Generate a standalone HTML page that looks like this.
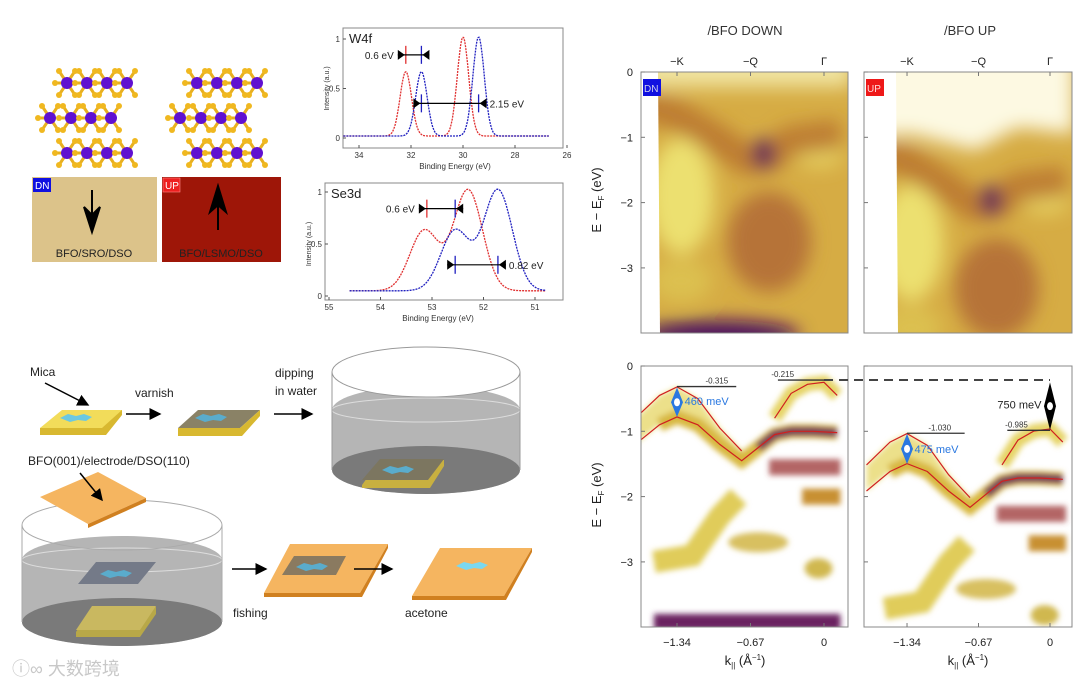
<!DOCTYPE html>
<html><head><meta charset="utf-8"><style>
html,body{margin:0;padding:0;background:#fff;}
svg{display:block;font-family:"Liberation Sans","Noto Sans CJK SC",sans-serif;}
</style></head><body>
<svg id="fig" width="1080" height="685" viewBox="0 0 1080 685" xmlns="http://www.w3.org/2000/svg">
<defs>
<filter id="b3" x="-50%" y="-50%" width="200%" height="200%"><feGaussianBlur stdDeviation="3"/></filter>
<filter id="b8" x="-50%" y="-50%" width="200%" height="200%"><feGaussianBlur stdDeviation="9"/></filter>
<clipPath id="cTL"><rect x="641" y="72" width="207" height="261"/></clipPath>
<clipPath id="cTR"><rect x="864" y="72" width="208" height="261"/></clipPath>
<clipPath id="cBL"><rect x="641" y="366" width="207" height="261"/></clipPath>
<clipPath id="cBR"><rect x="864" y="366" width="208" height="261"/></clipPath>
<marker id="ah" markerWidth="8" markerHeight="8" refX="7" refY="4" orient="auto"><path d="M0,0 L8,4 L0,8 z" fill="#000"/></marker>
</defs>

<g id="crystals"></g>
<rect x="32" y="177" width="125" height="85" fill="#dcc38a"/>
<rect x="33" y="178" width="18" height="14" fill="#1010e0"/>
<text x="35" y="189" font-size="10" fill="#fff">DN</text>
<path d="M92,190 L92,214 M84,207 L92,232 L100,207 L92,215 z" stroke="#000" stroke-width="2" fill="#000"/>
<text x="94" y="257" font-size="11" text-anchor="middle" fill="#222">BFO/SRO/DSO</text>
<rect x="162" y="177" width="119" height="85" fill="#9e1608"/>
<rect x="163" y="178" width="17" height="14" fill="#ee2020" stroke="#f88" stroke-width="0.6"/>
<text x="165" y="189" font-size="10" fill="#fff">UP</text>
<path d="M218,230 L218,206 M210,212 L218,186 L226,212 L218,205 z" stroke="#000" stroke-width="2" fill="#000"/>
<text x="221" y="257" font-size="11" text-anchor="middle" fill="#222">BFO/LSMO/DSO</text>

<g id="xps1">
<rect x="343" y="28" width="220" height="120" fill="#fff" stroke="#888"/>
</g>
<g id="xps2">
<rect x="325" y="183" width="238" height="117" fill="#fff" stroke="#888"/>
</g>

<g>
<text x="30" y="376" font-size="12" fill="#222">Mica</text>
<line x1="45" y1="383" x2="88" y2="405" stroke="#000" stroke-width="1.5" marker-end="url(#ah)"/>
<path d="M40,428 L100,410 L122,410 L122,415 L106,435 L40,435 z" fill="#d8b830"/>
<path d="M40,428 L62,410 L122,410 L102,428 z" fill="#f2dc5a"/>
<path d="M60,418 l8,-4 l8,2 l8,-2 l8,3 l-6,4 l-8,-1 l-8,2 z" fill="#6cc8e0"/>
<text x="135" y="397" font-size="12" fill="#222">varnish</text>
<line x1="126" y1="414" x2="160" y2="414" stroke="#000" stroke-width="1.5" marker-end="url(#ah)"/>
<path d="M178,428 L198,410 L260,410 L240,428 z" fill="#8a8266"/>
<path d="M178,428 L240,428 L260,410 L260,416 L242,436 L178,436 z" fill="#d8b830"/>
<path d="M195,418 l8,-4 l8,2 l8,-2 l8,3 l-6,4 l-8,-1 l-8,2 z" fill="#5aaccc"/>
<text x="275" y="377" font-size="12" fill="#222">dipping</text>
<text x="275" y="395" font-size="12" fill="#222">in water</text>
<line x1="274" y1="414" x2="312" y2="414" stroke="#000" stroke-width="1.5" marker-end="url(#ah)"/>
<path d="M332,410 L332,470 A94,24 0 0 0 520,470 L520,410 A94,24 0 0 0 332,410 z" fill="#b5b5b5"/>
<ellipse cx="426" cy="470" rx="94" ry="24" fill="#7a7a7a"/>
<ellipse cx="426" cy="410" rx="94" ry="12" fill="none" stroke="#ddd"/>
<ellipse cx="426" cy="372" rx="94" ry="25" fill="#fff" stroke="#999"/>
<line x1="332" y1="372" x2="332" y2="470" stroke="#999"/>
<line x1="520" y1="372" x2="520" y2="470" stroke="#999"/>
<path d="M362,485 L380,460 L444,460 L444,466 L430,488 L362,488 z" fill="#c8b040"/>
<path d="M362,480 L380,459 L444,459 L428,480 z" fill="#7c7660"/>
<path d="M382,470 l8,-4 l8,2 l8,-2 l8,3 l-6,4 l-8,-1 l-8,2 z" fill="#5aaccc"/>
<text x="28" y="465" font-size="12" fill="#222">BFO(001)/electrode/DSO(110)</text>
<path d="M22,560 L22,622 A100,24 0 0 0 222,622 L222,560 A100,24 0 0 0 22,560 z" fill="#b5b5b5"/>
<ellipse cx="122" cy="622" rx="100" ry="24" fill="#7a7a7a"/>
<ellipse cx="122" cy="560" rx="100" ry="12" fill="none" stroke="#ddd"/>
<ellipse cx="122" cy="525" rx="100" ry="25" fill="none" stroke="#aaa"/>
<line x1="22" y1="525" x2="22" y2="622" stroke="#aaa"/>
<line x1="222" y1="525" x2="222" y2="622" stroke="#aaa"/>
<path d="M40,497 L98,472 L146,498 L88,524 z" fill="#f5b560"/>
<path d="M88,524 L146,498 L146,502 L88,528 z" fill="#d08020"/>
<line x1="80" y1="473" x2="102" y2="500" stroke="#000" stroke-width="1.5" marker-end="url(#ah)"/>
<path d="M78,584 L96,562 L156,562 L138,584 z" fill="#747a88"/>
<path d="M100,574 l8,-4 l8,2 l8,-2 l8,3 l-6,4 l-8,-1 l-8,2 z" fill="#5aaccc"/>
<path d="M76,632 L92,607 L156,607 L156,614 L140,637 L76,637 z" fill="#b8a848"/>
<path d="M76,630 L92,606 L156,606 L140,630 z" fill="#c9b860"/>
<line x1="232" y1="569" x2="266" y2="569" stroke="#000" stroke-width="1.5" marker-end="url(#ah)"/>
<text x="233" y="617" font-size="12" fill="#222">fishing</text>
<path d="M264,593 L290,544 L388,544 L360,593 z" fill="#f5b560"/>
<path d="M360,593 L388,544 L388,548 L362,597 L264,597 L264,593 z" fill="#d08020"/>
<path d="M282,575 L294,556 L346,556 L336,575 z" fill="#8a7a60"/>
<path d="M296,567 l8,-4 l8,2 l8,-2 l8,3 l-6,4 l-8,-1 l-8,2 z" fill="#5aaccc"/>
<line x1="354" y1="569" x2="392" y2="569" stroke="#000" stroke-width="1.5" marker-end="url(#ah)"/>
<text x="405" y="617" font-size="12" fill="#222">acetone</text>
<path d="M412,596 L440,548 L532,548 L504,596 z" fill="#f5b560"/>
<path d="M504,596 L532,548 L532,552 L506,600 L412,600 L412,596 z" fill="#d08020"/>
<path d="M456,566 l8,-4 l8,2 l8,-2 l8,3 l-6,4 l-8,-1 l-8,2 z" fill="#7ad8f0"/>
<text x="12" y="675" font-size="18" fill="#c8c8c8">ⓘ∞ 大数跨境</text>
</g>

<text x="745" y="35" font-size="13" text-anchor="middle" fill="#333">/BFO DOWN</text>
<text x="970" y="35" font-size="13" text-anchor="middle" fill="#333">/BFO UP</text>
<g id="arpes"></g>
<text transform="translate(601,200) rotate(-90)" font-size="13" text-anchor="middle" fill="#222">E − E<tspan font-size="8" dy="3">F</tspan><tspan dy="-3"> (eV)</tspan></text>
<text transform="translate(601,495) rotate(-90)" font-size="13" text-anchor="middle" fill="#222">E − E<tspan font-size="8" dy="3">F</tspan><tspan dy="-3"> (eV)</tspan></text>
<text x="745" y="665" font-size="13" text-anchor="middle" fill="#222">k<tspan font-size="8" dy="3">||</tspan><tspan dy="-3"> (Å</tspan><tspan font-size="8" dy="-5">−1</tspan><tspan dy="5">)</tspan></text>
<text x="968" y="665" font-size="13" text-anchor="middle" fill="#222">k<tspan font-size="8" dy="3">||</tspan><tspan dy="-3"> (Å</tspan><tspan font-size="8" dy="-5">−1</tspan><tspan dy="5">)</tspan></text>
</svg>
<script>
const NS="http://www.w3.org/2000/svg";
const w4fRedCenters=[32.2,30.0], w4fRedHeights=[0.65,1.0];
const w4fBlueCenters=[31.6,29.4], w4fBlueHeights=[0.65,1.0];
const se3dRedCenters=[53.15,52.3], se3dRedHeights=[0.58,0.97];
const se3dBlueCenters=[52.55,51.72], se3dBlueHeights=[0.58,0.97];
const w4fXTicks=[34,32,30,28,26], se3dXTicks=[55,54,53,52,51], yTicks=[0,0.5,1];
const kTicks=[-1.34,-0.67,0], kTickLabels=["−1.34","−0.67","0"];
const eTicks=[0,-1,-2,-3], eTickLabels=["0","−1","−2","−3"];
const symTicks=[-1.34,-0.67,0.0], symLabels=["−K","−Q","Γ"];
const upperK=[-1.72,-1.5,-1.34,-1.15,-0.95,-0.75];
const upperE=[-0.8,-0.45,-0.32,-0.5,-0.95,-1.3];
const lowerK=[-1.72,-1.5,-1.34,-1.15,-0.95,-0.75,-0.6,-0.45,-0.3,-0.1,0.12];
const lowerE=[-1.2,-0.9,-0.78,-0.9,-1.2,-1.45,-1.25,-1.05,-1.0,-1.0,-1.02];
const humpK=[-0.45,-0.3,-0.15,0,0.12], humpE=[-0.8,-0.42,-0.28,-0.25,-0.45];
const diagK=[-1.55,-1.2,-0.95,-0.78], diagE=[-3.0,-2.9,-2.3,-2.0];
const vK=[-1.7,-1.35,-1.0,-0.7,-0.5,-0.3,0.15], vE=[-0.5,-0.65,-1.0,-1.35,-1.3,-1.05,-0.95];
const upShift=0.715;

function el(tag,attrs,parent){const e=document.createElementNS(NS,tag);for(const k in attrs)e.setAttribute(k,attrs[k]);parent.appendChild(e);return e;}
function txt(s,attrs,parent){const t=el('text',attrs,parent);t.textContent=s;return t;}

(function(){
 const g=document.getElementById('crystals');
 const rows=[[83,[67,87,107,127]],[118,[50,71,91,111]],[153,[67,87,107,127]]];
 [0,130].forEach(off=>rows.forEach(r=>r[1].forEach(x=>{
  const cx=x+off,cy=r[0];
  [[-8,-12],[8,-12],[-8,12],[8,12],[-12,0]].forEach(d=>{el('line',{x1:cx,y1:cy,x2:cx+d[0],y2:cy+d[1],stroke:'#e8b020','stroke-width':3},g);el('circle',{cx:cx+d[0],cy:cy+d[1],r:3,fill:'#f0b820'},g);});
  el('circle',{cx:cx,cy:cy,r:6,fill:'#6010d0'},g);
 })));
})();

function gauss(x,c,s){return Math.exp(-((x-c)*(x-c))/(2*s*s));}
function xpsPlot(gid,x0,x1,e0,e1,yb,yt,xTicks,from,to,sig,base,rc,rh,bc,bh,title){
 const g=document.getElementById(gid);
 const X=v=>x0+(e0-v)/(e0-e1)*(x1-x0), Y=v=>yb-(v)*(yb-yt);
 const frame=g.querySelector('rect');const fb=+frame.getAttribute('y')+ +frame.getAttribute('height');
 xTicks.forEach(t=>{const x=X(t);el('line',{x1:x,y1:fb,x2:x,y2:fb-3,stroke:'#555'},g);txt(String(t),{x:x,y:fb+10,'font-size':8,'text-anchor':'middle',fill:'#333'},g);});
 const fx=+frame.getAttribute('x');
 yTicks.forEach(t=>{const y=Y(t);el('line',{x1:fx,y1:y,x2:fx+3,y2:y,stroke:'#555'},g);txt(String(t),{x:fx-3,y:y+3,'font-size':8,'text-anchor':'end',fill:'#333'},g);});
 txt('Binding Energy (eV)',{x:(fx+x1)/2+(fx===343?0:8),y:fb+21,'font-size':8,'text-anchor':'middle',fill:'#333'},g);
 txt('Intensity (a.u.)',{transform:`translate(${fx-14},${(yt+yb)/2}) rotate(-90)`,'font-size':7,'text-anchor':'middle',fill:'#333'},g);
 txt(title,{x:fx+6,y:+frame.getAttribute('y')+15,'font-size':13,fill:'#222'},g);
 [[rc,rh,'#e03030'],[bc,bh,'#2020c0']].forEach(([cs,hs,col],si)=>{
  let d='';for(let i=0;i<=200;i++){const e=from+(to-from)*i/200;let v=base;cs.forEach((c,j)=>v+=hs[j]*gauss(e,c,sig));d+=(i?'L':'M')+X(e).toFixed(1)+','+Y(v).toFixed(1);}
  const p=el('path',{d:d,fill:'none',stroke:col,'stroke-width':1.3,'stroke-dasharray':'2,1'},g);
  
  
 });
 return {X,Y,g};
}
function meas(o,e1,e2,yv,lbl,lblRight,colA,colB){
 const {X,Y,g}=o;const y=Y(yv);const a=X(e1),b=X(e2);
 el('line',{x1:a,y1:y-9,x2:a,y2:y+9,stroke:colA,'stroke-width':1.3},g);
 el('line',{x1:b,y1:y-9,x2:b,y2:y+9,stroke:colB,'stroke-width':1.3},g);
 el('line',{x1:Math.min(a,b)-8,y1:y,x2:Math.max(a,b)+8,y2:y,stroke:'#000','stroke-width':1.2},g);
 const L=Math.min(a,b)-8,R=Math.max(a,b)+8;
 el('path',{d:`M${L},${y-5} L${L+7},${y} L${L},${y+5} z`,fill:'#000'},g);
 el('path',{d:`M${R},${y-5} L${R-7},${y} L${R},${y+5} z`,fill:'#000'},g);
 if(lblRight) txt(lbl,{x:R+3,y:y+4,'font-size':10,fill:'#222'},g); else txt(lbl,{x:L-4,y:y+4,'font-size':10,'text-anchor':'end',fill:'#222'},g);
}
const o1=xpsPlot('xps1',359,567,34,26,138,39,w4fXTicks,34.6,26.7,0.22,0.02,w4fRedCenters,w4fRedHeights,w4fBlueCenters,w4fBlueHeights,'W4f');
meas(o1,32.2,31.6,0.84,'0.6 eV',false,'#e03030','#2020c0');
meas(o1,31.6,29.4,0.35,'2.15 eV',true,'#2020c0','#2020c0');
const o2=xpsPlot('xps2',329,535,55,51,296,192,se3dXTicks,54.6,50.8,0.28,0.05,se3dRedCenters,se3dRedHeights,se3dBlueCenters,se3dBlueHeights,'Se3d');
meas(o2,53.1,52.55,0.84,'0.6 eV',false,'#e03030','#2020c0');
meas(o2,52.55,51.72,0.3,'0.82 eV',true,'#2020c0','#2020c0');

const A=document.getElementById('arpes');
const panels=[{x0:641,x1:848,z:824,s:109.7,y0:72,clip:'cTL',top:true,up:false},
 {x0:864,x1:1072,z:1050,s:106.7,y0:72,clip:'cTR',top:true,up:true},
 {x0:641,x1:848,z:824,s:109.7,y0:366,clip:'cBL',top:false,up:false},
 {x0:864,x1:1072,z:1050,s:106.7,y0:366,clip:'cBR',top:false,up:true}];
const ES=65.3;
function pts(ks,es,P,d){return ks.map((k,i)=>[P.z+k*P.s,P.y0-(es[i]-d)*ES]);}
function pd(p){return p.map((q,i)=>(i?'L':'M')+q[0].toFixed(1)+','+q[1].toFixed(1)).join('');}
panels.forEach((P)=>{
 const g=el('g',{'clip-path':`url(#${P.clip})`},A);
 const d=P.up?upShift:0;
 const X=k=>P.z+k*P.s, Y=e=>P.y0-e*ES;
 if(P.top){
  el('rect',{x:P.x0,y:P.y0,width:210,height:262,fill:'#d6ac44'},g);
  const b=el('g',{filter:'url(#b8)'},g);
  el('ellipse',{cx:X(-1.3),cy:Y(-1.9-d),rx:32,ry:58,fill:'#ece070'},b);
  el('ellipse',{cx:X(-0.05),cy:Y(-1.25-d),rx:25,ry:14,fill:'#e6d060'},b);
  el('path',{d:pd(pts(vK,vE,P,d)),stroke:'#b87430','stroke-width':30,fill:'none',opacity:0.85},b);
  el('ellipse',{cx:X(-0.5),cy:Y(-2.6-d),rx:42,ry:50,fill:'#b06a35',opacity:0.85},b);
  el('ellipse',{cx:X(-1.3),cy:Y(-3.2-d),rx:30,ry:22,fill:'#dcc050'},b);
  el('ellipse',{cx:X(-0.55),cy:Y(-1.25-d),rx:11,ry:15,fill:'#5a1a5a'},b);
  if(!P.up){
   el('rect',{x:P.x0,y:P.y0-20,width:210,height:35,fill:'#f0e4a0'},b);
   el('ellipse',{cx:X(-0.95),cy:Y(-4.02),rx:80,ry:14,fill:'#4a1060'},b);
  } else {
   el('path',{d:`M${P.x0},${P.y0-20} L${P.x0+210},${P.y0-20} L${P.x0+210},${Y(-0.95)} L${X(-0.3)},${Y(-0.85)} L${X(-0.7)},${Y(-1.2)} L${X(-1.3)},${Y(-0.95)} L${P.x0},${Y(-1.0)} z`,fill:'#fdf9e2'},b);
  }
  const ws=P.up?32:17;
  el('path',{d:`M${P.x0-2},${P.y0} L${P.x0+ws},${P.y0} L${P.x0+ws+2},${P.y0+262} L${P.x0-2},${P.y0+262} z`,fill:'#fff'},g);
 } else {
  el('rect',{x:P.x0,y:P.y0,width:210,height:262,fill:'#fff'},g);
  const b=el('g',{filter:'url(#b3)'},g);
  const up=pts(upperK,upperE,P,d), lo=pts(lowerK,lowerE,P,d);
  el('path',{d:pd(up)+'L'+lo.slice(0,6).reverse().map(q=>q.join(',')).join('L')+'z',fill:'#ece08a'},b);
  el('path',{d:pd(lo.slice(1)),stroke:'#d8b840','stroke-width':14,fill:'none'},b);
  el('path',{d:pd(pts(lowerK.slice(6),lowerE.slice(6),P,d)),stroke:'#5a1860','stroke-width':9,fill:'none',opacity:0.8},b);
  el('path',{d:pd(pts(humpK,humpE,P,d)),stroke:'#e6d468','stroke-width':14,fill:'none'},b);
  el('path',{d:pd(pts(diagK,diagE,P,d)),stroke:'#e0cc5a','stroke-width':22,fill:'none'},b);
  el('rect',{x:X(-0.5),y:Y(-1.55-d)-8,width:X(0.15)-X(-0.5),height:16,fill:'#a04040',opacity:0.8},b);
  el('rect',{x:X(-0.2),y:Y(-2.0-d)-8,width:X(0.15)-X(-0.2),height:16,fill:'#c89030'},b);
  el('ellipse',{cx:X(-0.6),cy:Y(-2.7-d),rx:30,ry:10,fill:'#d8c060'},b);
  el('ellipse',{cx:X(-0.05),cy:Y(-3.1-d),rx:14,ry:10,fill:'#d0b850'},b);
  if(!P.up) el('rect',{x:X(-1.55),y:Y(-3.92)-8,width:X(0.15)-X(-1.55),height:16,fill:'#6a2060'},b);
  [[upperK,upperE],[lowerK,lowerE],[humpK,humpE]].forEach(([ks,es])=>{
   const l=el('path',{d:pd(pts(ks,es,P,d)),stroke:'#d02020','stroke-width':1.2,fill:'none'},g);
   
   
  });
 }
 el('rect',{x:P.x0,y:P.y0,width:P.x1-P.x0,height:261,fill:'none',stroke:'#888'},A);
 const yb=P.y0+261;
 if(P.top){symTicks.forEach((k,i)=>{el('line',{x1:X(k),y1:P.y0,x2:X(k),y2:P.y0+4,stroke:'#777'},A);txt(symLabels[i],{x:X(k),y:P.y0-7,'font-size':11,'text-anchor':'middle',fill:'#222'},A);});}
 else{kTicks.forEach((k,i)=>{el('line',{x1:X(k),y1:yb,x2:X(k),y2:yb-4,stroke:'#777'},A);txt(kTickLabels[i],{x:X(k),y:yb+19,'font-size':11,'text-anchor':'middle',fill:'#222'},A);});}
 eTicks.forEach((e,i)=>{el('line',{x1:P.x0,y1:Y(e),x2:P.x0+4,y2:Y(e),stroke:'#777'},A);if(!P.up)txt(eTickLabels[i],{x:P.x0-8,y:Y(e)+4,'font-size':11,'text-anchor':'end',fill:'#222'},A);});
});
el('rect',{x:643,y:79,width:18,height:17,fill:'#1010e0'},A);txt('DN',{x:644,y:92,'font-size':10,fill:'#cce'},A);
el('rect',{x:866,y:79,width:18,height:17,fill:'#ee1818'},A);txt('UP',{x:867,y:92,'font-size':10,fill:'#fdd'},A);
const PL=panels[2],PR=panels[3];
function xk(P,k){return P.z+k*P.s;} function yE(P,e){return P.y0-e*ES;}
const peakE=[-0.315,-0.215,-1.030,-0.985];
el('line',{x1:xk(PL,-1.34),y1:yE(PL,peakE[0]),x2:xk(PL,-0.8),y2:yE(PL,peakE[0]),stroke:'#333','stroke-width':1.3},A);
txt('-0.315',{x:xk(PL,-1.08),y:yE(PL,peakE[0])-3,'font-size':8,fill:'#333'},A);
el('line',{x1:xk(PL,-0.42),y1:yE(PL,peakE[1]),x2:xk(PL,0),y2:yE(PL,peakE[1]),stroke:'#333','stroke-width':1.3},A);
txt('-0.215',{x:xk(PL,-0.48),y:yE(PL,peakE[1])-3,'font-size':8,fill:'#333'},A);
el('line',{x1:xk(PL,0),y1:yE(PL,peakE[1]),x2:xk(PR,0),y2:yE(PL,peakE[1]),stroke:'#444','stroke-width':2,'stroke-dasharray':'9,6'},A);
el('line',{x1:xk(PR,-1.34),y1:yE(PR,peakE[2]),x2:xk(PR,-0.8),y2:yE(PR,peakE[2]),stroke:'#333','stroke-width':1.3},A);
txt('-1.030',{x:xk(PR,-1.14),y:yE(PR,peakE[2])-3,'font-size':8,fill:'#333'},A);
el('line',{x1:xk(PR,-0.4),y1:yE(PR,peakE[3]),x2:xk(PR,0),y2:yE(PR,peakE[3]),stroke:'#333','stroke-width':1.3},A);
txt('-0.985',{x:xk(PR,-0.42),y:yE(PR,peakE[3])-3,'font-size':8,fill:'#333'},A);
function dbl(x,y1,y2,col){el('path',{d:`M${x},${y1} L${x+6},${(y1+y2)/2} L${x},${y2} L${x-6},${(y1+y2)/2} z`,fill:col},A);el('ellipse',{cx:x,cy:(y1+y2)/2,rx:3,ry:4,fill:'#fff'},A);}
dbl(xk(PL,-1.34),yE(PL,-0.33),yE(PL,-0.78),'#2a78e0');
txt('460 meV',{x:xk(PL,-1.27),y:yE(PL,-0.6),'font-size':11,fill:'#2a78e0'},A);
dbl(xk(PR,-1.34),yE(PR,-1.04),yE(PR,-1.5),'#2a78e0');
txt('475 meV',{x:xk(PR,-1.27),y:yE(PR,-1.33),'font-size':11,fill:'#2a78e0'},A);
dbl(xk(PR,0.0),yE(PL,-0.25),yE(PR,-0.98),'#000');
txt('750 meV',{x:xk(PR,-0.08),y:yE(PR,-0.65),'font-size':11,'text-anchor':'end',fill:'#222'},A);
</script>
</body></html>
